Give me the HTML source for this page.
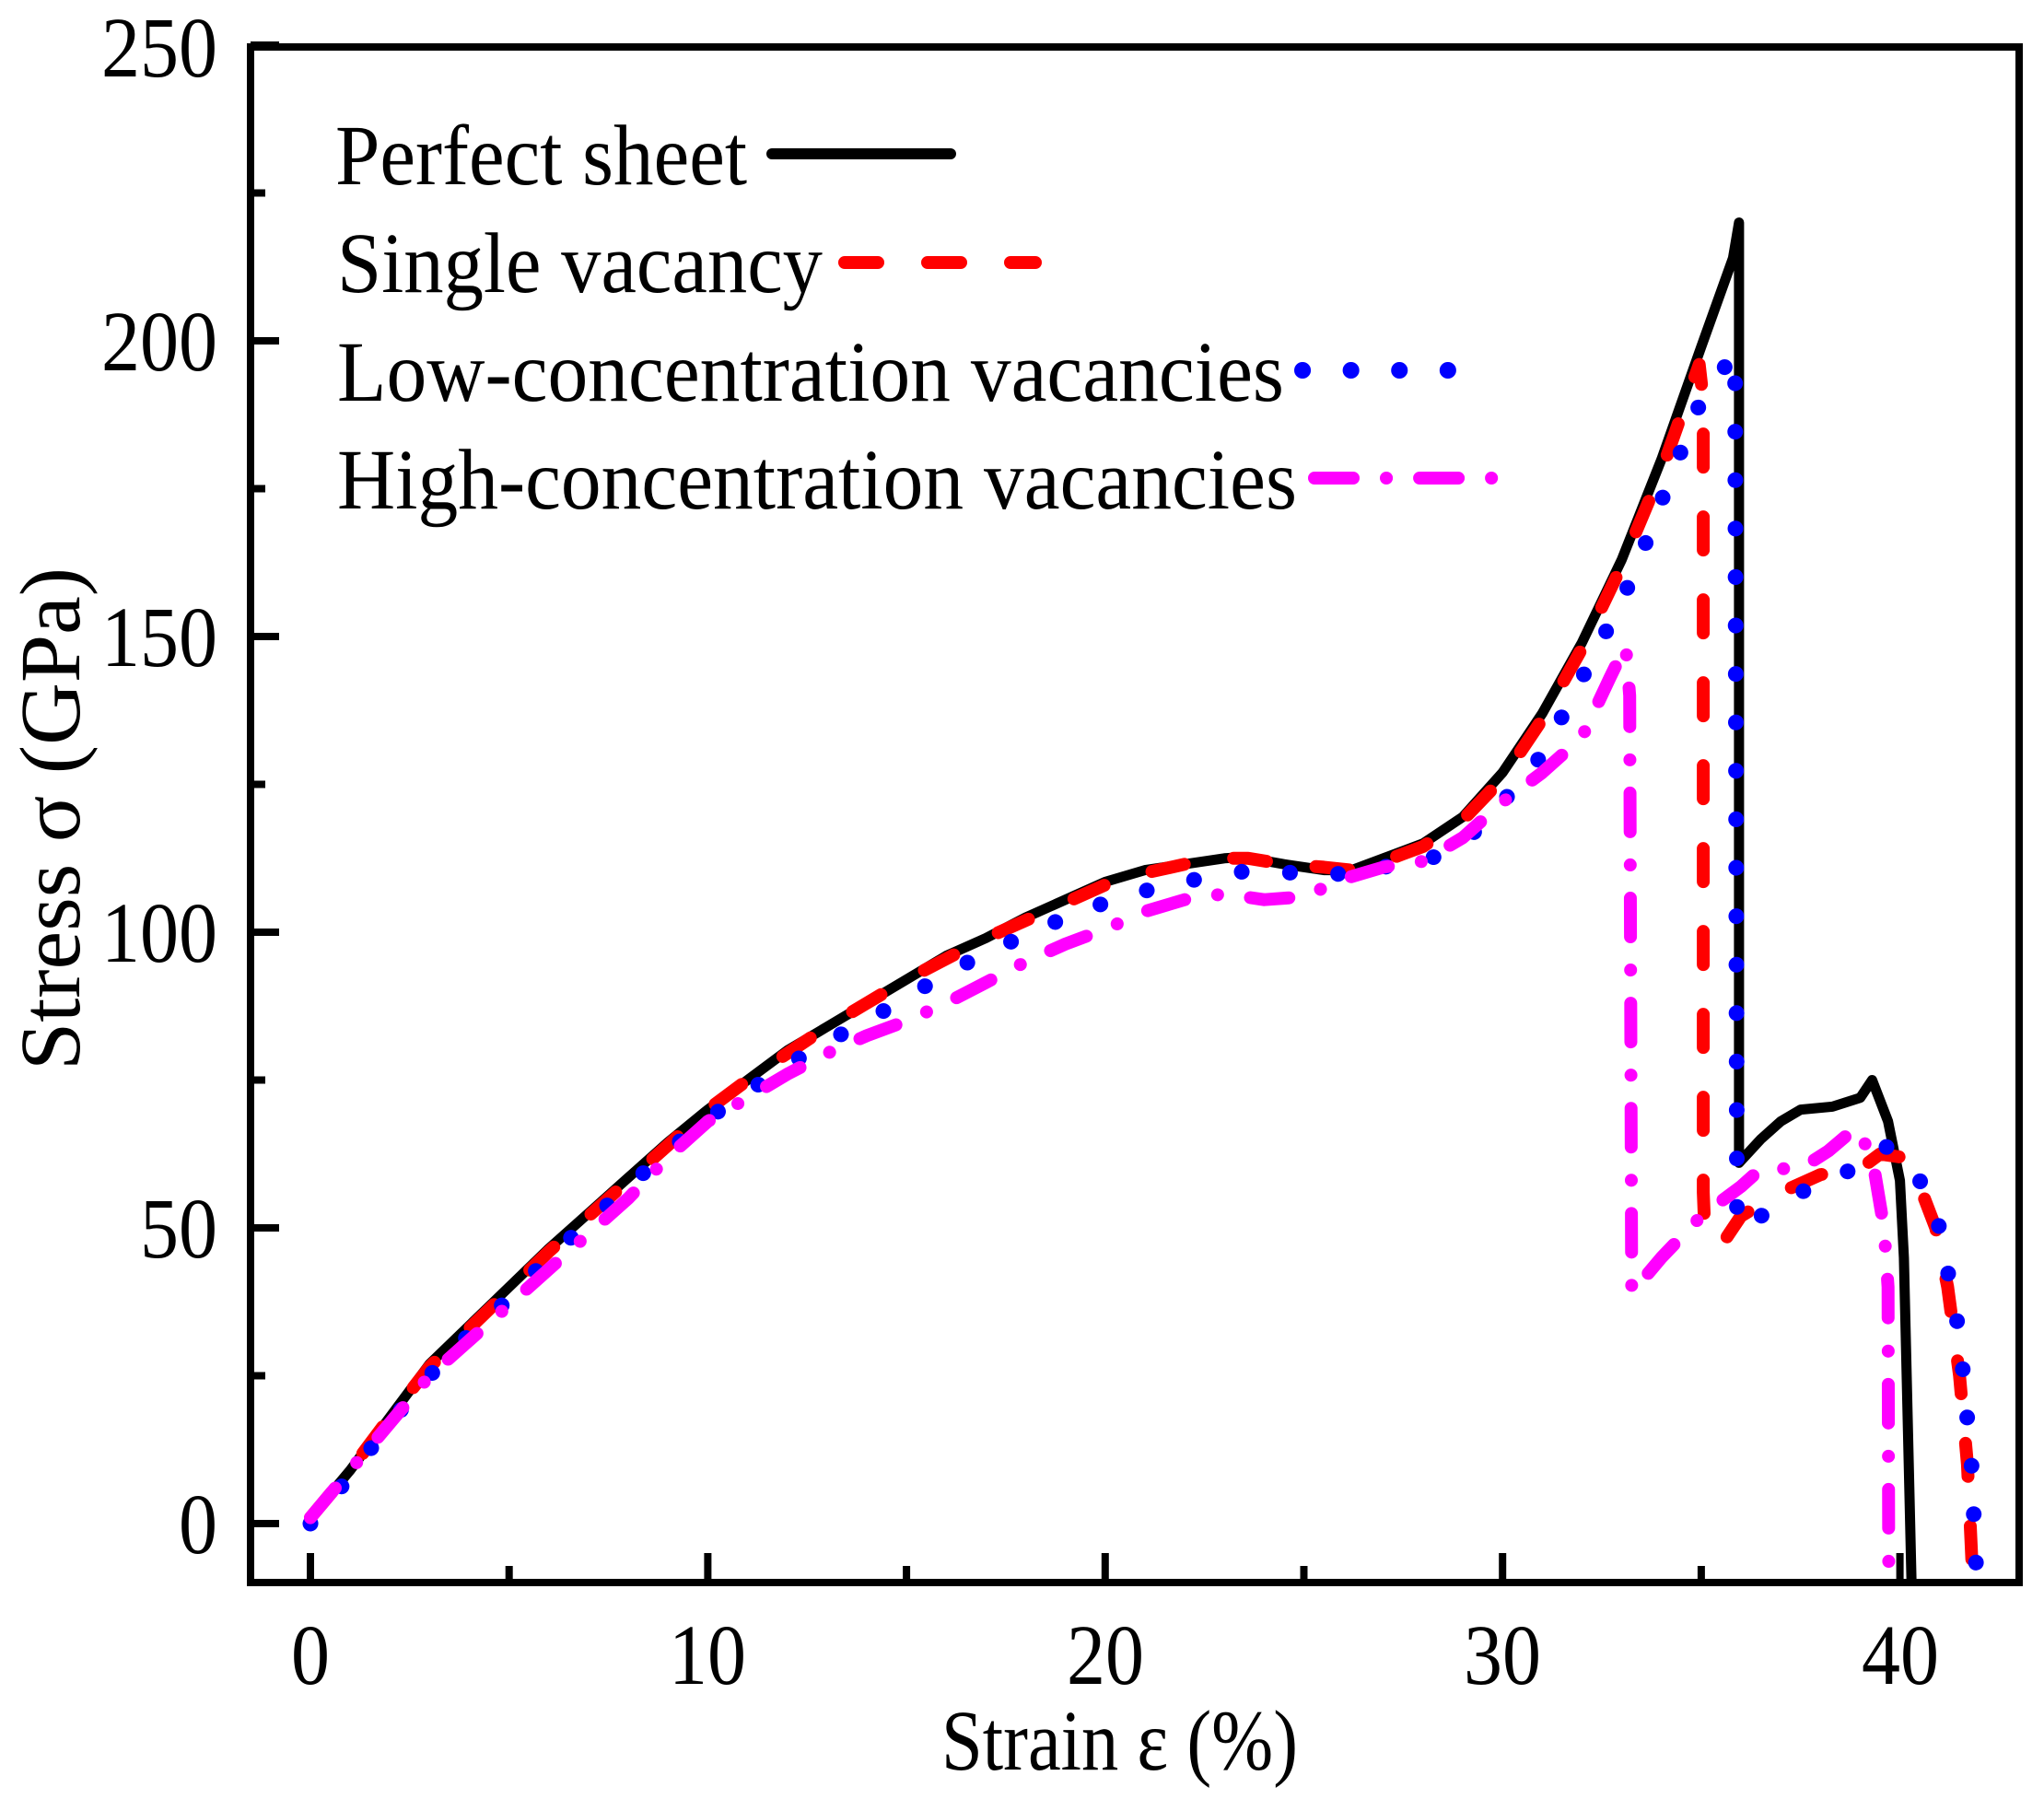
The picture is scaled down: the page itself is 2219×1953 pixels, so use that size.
<!DOCTYPE html>
<html><head><meta charset="utf-8">
<style>
html,body{margin:0;padding:0;background:#fff;}
svg{display:block;}
text{font-family:"Liberation Serif","Times New Roman",serif;fill:#000;}
</style></head>
<body>
<svg id="s" width="2219" height="1953" viewBox="0 0 2219 1953" xmlns="http://www.w3.org/2000/svg">
<defs><clipPath id="c"><rect x="276" y="54" width="1912" height="1660"/></clipPath></defs>
<g id="series" clip-path="url(#c)"></g>
<rect x="272" y="51" width="1920" height="1667" fill="none" stroke="#000" stroke-width="8"/>
<g id="ticks" stroke="#000" stroke-width="8"></g>
<g font-size="93" text-anchor="end">
<text x="236" y="1686" textLength="42" lengthAdjust="spacingAndGlyphs">0</text>
<text x="236" y="1365" textLength="84" lengthAdjust="spacingAndGlyphs">50</text>
<text x="236" y="1044" textLength="126" lengthAdjust="spacingAndGlyphs">100</text>
<text x="236" y="723" textLength="126" lengthAdjust="spacingAndGlyphs">150</text>
<text x="236" y="402" textLength="126" lengthAdjust="spacingAndGlyphs">200</text>
<text x="236" y="83" textLength="126" lengthAdjust="spacingAndGlyphs">250</text>
</g>
<g font-size="93" text-anchor="middle">
<text x="337" y="1828" textLength="42" lengthAdjust="spacingAndGlyphs">0</text>
<text x="768" y="1828" textLength="84" lengthAdjust="spacingAndGlyphs">10</text>
<text x="1200" y="1828" textLength="84" lengthAdjust="spacingAndGlyphs">20</text>
<text x="1631" y="1828" textLength="84" lengthAdjust="spacingAndGlyphs">30</text>
<text x="2063" y="1828" textLength="84" lengthAdjust="spacingAndGlyphs">40</text>
</g>
<text x="1022" y="1921" font-size="93" textLength="387" lengthAdjust="spacingAndGlyphs">Strain ε (%)</text>
<text transform="translate(86,1162) rotate(-90)" font-size="93" textLength="546" lengthAdjust="spacingAndGlyphs">Stress σ (GPa)</text>
<g font-size="93">
<text x="364" y="200" textLength="447" lengthAdjust="spacingAndGlyphs">Perfect sheet</text>
<text x="366" y="317" textLength="527" lengthAdjust="spacingAndGlyphs">Single vacancy</text>
<text x="366" y="435" textLength="1028" lengthAdjust="spacingAndGlyphs">Low-concentration vacancies</text>
<text x="366" y="552" textLength="1042" lengthAdjust="spacingAndGlyphs">High-concentration vacancies</text>
</g>
<line x1="838" y1="167" x2="1032" y2="167" stroke="#000" stroke-width="12" stroke-linecap="round"/>
<line x1="917" y1="285" x2="1124" y2="285" stroke="#f00" stroke-width="14" stroke-linecap="round" stroke-dasharray="36 54"/>
<line x1="1414" y1="402" x2="1590" y2="402" stroke="#00f" stroke-width="18" stroke-linecap="round" stroke-dasharray="0.1 52.5"/>
<line x1="1427" y1="519" x2="1625" y2="519" stroke="#f0f" stroke-width="14" stroke-linecap="round" stroke-dasharray="42 36 0.1 36"/>
</svg>
<script>
var X=function(e){return 337+43.14*e},Y=function(s){return 1654-6.42*s};
var NS="http://www.w3.org/2000/svg";
function add(pts,color,w,dash){
 var p=document.createElementNS(NS,"polyline");
 p.setAttribute("points",pts.map(function(q){return X(q[0]).toFixed(1)+","+Y(q[1]).toFixed(1)}).join(" "));
 p.setAttribute("fill","none");p.setAttribute("stroke",color);p.setAttribute("stroke-width",w);
 p.setAttribute("stroke-linejoin","round");p.setAttribute("stroke-linecap","round");
 if(dash)p.setAttribute("stroke-dasharray",dash);
 document.getElementById("series").appendChild(p);
}
var mag=[[0,1],[1,9],[2,17],[3,25],[4,31],[5,37],[6,43],[7,49],[8,55],[9,62],[10,68],[11,72],[12,76],[13,79.5],[14,82.5],[15,85],[16,88],[17,91.5],[18,95],[19,98],[20,100.5],[21,103.5],[22,105.5],[23,106.5],[24,105.5],[25,106],[26,109],[27,111],[28,112],[29,116],[30,122],[31,127],[32,133],[32.7,143],[33.1,148.5],[33.2,140],[33.25,39],[34,45],[35,52],[36,57],[36.5,60],[37.5,60],[38.2,63],[38.9,67],[39.3,62],[39.6,50],[39.7,40],[39.72,-12]];
var blue=[[0,0],[1,8],[2,17],[3,25],[4,32],[5,38],[6,45],[7,51],[8,57],[9,63],[10,68.5],[11,73],[12,77.5],[13,81.5],[14,85],[15,89],[16,93],[17,96.5],[18,99.5],[19,102.5],[20,105],[21,107],[22,108.5],[23,110],[24,110.5],[25.5,109.5],[27,111],[28.5,113],[29.5,118],[30,122],[31,130],[32,143],[33,156],[33.5,164],[34,173],[35,190],[35.85,198],[35.9,50],[36.5,52],[37.5,56],[38.5,59],[39,60.5],[39.6,64],[40,62],[40.5,58],[41,50],[41.5,32],[41.8,10],[41.95,-12]];
var red=[[0,1],[1,9],[2,18],[3,26.5],[4,33],[5,39.5],[6,46],[7,52],[8,58],[9,64],[10,70],[11,75],[12,79.5],[13,84],[14,88],[15,92],[16,95.5],[17,99],[18,102],[19,105],[20,108],[21,110],[22,111.5],[23,112.5],[23.6,112.5],[24.5,111.5],[25.5,111],[26.2,110.5],[27,112],[28,114.5],[29,119],[30,126],[31,136],[32,148],[33,162],[34,178],[34.95,196],[35.05,190],[35.05,56],[35.1,48],[35.6,48],[36,52],[37,56],[38,59],[39,60],[39.5,62.5],[40,62],[40.5,57],[40.9,50],[41.2,40],[41.5,25],[41.7,10],[41.85,-12]];
var blk=[[0,1],[1,9],[2,18],[3,27],[4,33.5],[5,40],[6,46.5],[7,52.5],[8,58.5],[9,64.5],[10,70],[11,75],[12,80],[13,84],[14,88],[15,92],[16,96],[17,99],[18,102.5],[19,105.5],[20,108.5],[21,110.5],[22,111.5],[23,112.5],[23.5,112.7],[24.5,111.5],[25.5,110.5],[26.2,110.5],[27,112.5],[28,115],[29,119.5],[30,127],[31,137],[32,149],[33,163],[34,180],[35,199],[35.8,214],[35.95,220],[35.95,61],[36.5,65],[37,68],[37.5,70],[38.3,70.5],[39,72],[39.3,75],[39.7,68],[40,58],[40.1,45],[40.3,-12]];
add(blk,"#000",11,null);
add(red,"#f00",14,"36 54");
add(blue,"#00f",17,"0.1 52.5");
add(mag,"#f0f",14,"42 36 0.1 36");
var t=document.getElementById("ticks");
function L(x1,y1,x2,y2){var l=document.createElementNS(NS,"line");l.setAttribute("x1",x1);l.setAttribute("y1",y1);l.setAttribute("x2",x2);l.setAttribute("y2",y2);t.appendChild(l);}
for(var s=0;s<=250;s+=25){var y=Y(s);L(272,y,s%50==0?303:288,y);}
for(var e=0;e<=40;e+=5){var x=X(e);L(x,1718,x,e%10==0?1686:1700);}
</script>
</body></html>
